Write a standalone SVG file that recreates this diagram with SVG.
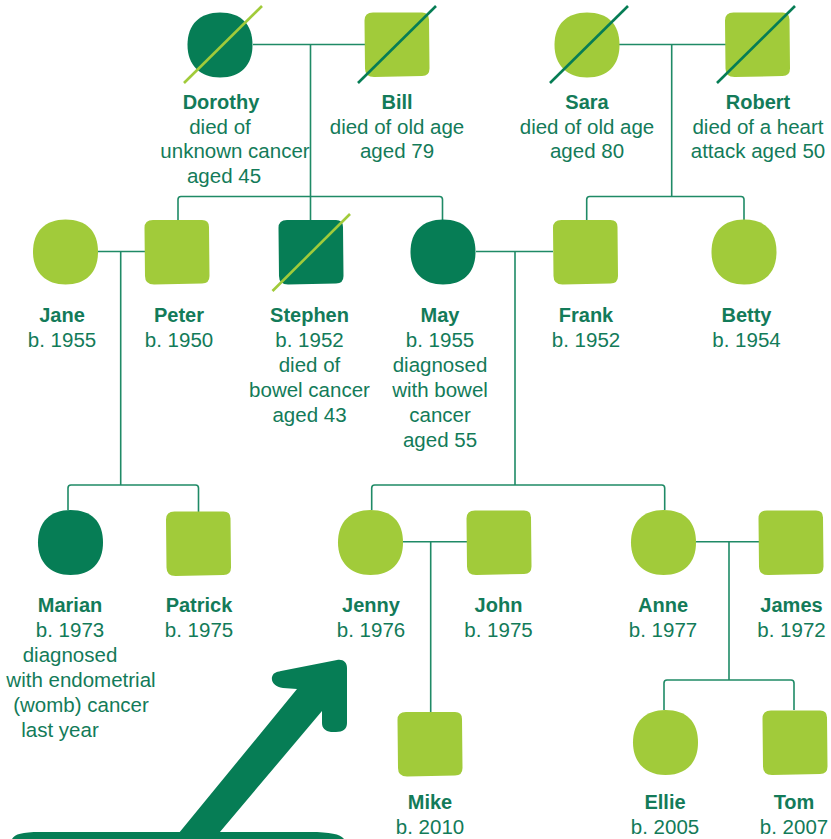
<svg xmlns="http://www.w3.org/2000/svg" xmlns:xlink="http://www.w3.org/1999/xlink" width="831" height="839" viewBox="0 0 831 839">
<style>
.dk{fill:#067d55}
.lt{fill:#a1cb3a}
.con{fill:none;stroke:#1f8a66;stroke-width:1.6}
.sl{stroke:#a1cb3a;stroke-width:2.6}
.sd{stroke:#067d55;stroke-width:2.6}
text{font-family:"Liberation Sans",Arial,sans-serif;font-size:20.5px;fill:#137b59;text-anchor:middle}
.nm{font-weight:bold;font-size:20px}
</style>
<defs>
<path id="fem" d="M0,-32.5 C21,-32.5 32.5,-21 32.5,0 C32.5,20 21,32.5 0,32.5 C-20,32.5 -32.5,20 -32.5,0 C-32.5,-21 -20,-32.5 0,-32.5 Z"/>
<path id="mal" d="M-24,-32 L25,-32 Q32,-32 32,-25 L32.5,24 Q32.5,31.5 25,31.5 L-23,32.5 Q-32,32.5 -32,24 L-32.5,-24 Q-32.5,-32 -24,-32 Z"/>
</defs>

<g id="connectors">
<path class="con" d="M253,44.5 H365 M310.5,44.5 V196.5"/>
<path class="con" d="M619,44.5 H726 M671.7,44.5 V196.5"/>
<path class="con" d="M178,220 V199.5 Q178,196.5 181,196.5 H439.5 Q442.5,196.5 442.5,199.5 V220 M310.5,196.5 V220"/>
<path class="con" d="M586.7,220 V199.5 Q586.7,196.5 589.7,196.5 H741 Q744,196.5 744,199.5 V220"/>
<path class="con" d="M98,251.5 H145 M120.7,251.5 V485"/>
<path class="con" d="M476,251.5 H553 M515,251.5 V485"/>
<path class="con" d="M68,510 V488 Q68,485 71,485 H195.5 Q198.5,485 198.5,488 V512"/>
<path class="con" d="M371.7,510 V488 Q371.7,485 374.7,485 H661.7 Q664.7,485 664.7,488 V510"/>
<path class="con" d="M403,541.7 H467 M430.7,541.7 V712"/>
<path class="con" d="M696,541.7 H759 M729,541.7 V680"/>
<path class="con" d="M664,710 V683 Q664,680 667,680 H791 Q794,680 794,683 V710"/>
</g>

<g id="dorothy">
<use xlink:href="#fem" href="#fem" class="dk" transform="translate(220,45)"/>
<line class="sl" x1="184" y1="83" x2="262" y2="6"/>
<text class="nm" x="221" y="109">Dorothy</text>
<text x="220" y="134">died of</text>
<text x="235" y="158">unknown cancer</text>
<text x="224" y="183">aged 45</text>
</g>
<g id="bill">
<use xlink:href="#mal" href="#mal" class="lt" transform="translate(397,44.5)"/>
<line class="sd" x1="358" y1="83" x2="436" y2="6"/>
<text class="nm" x="397" y="109">Bill</text>
<text x="397" y="134">died of old age</text>
<text x="397" y="158">aged 79</text>
</g>
<g id="sara">
<use xlink:href="#fem" href="#fem" class="lt" transform="translate(587,45)"/>
<line class="sd" x1="550" y1="83" x2="628" y2="6"/>
<text class="nm" x="587" y="109">Sara</text>
<text x="587" y="134">died of old age</text>
<text x="587" y="158">aged 80</text>
</g>
<g id="robert">
<use xlink:href="#mal" href="#mal" class="lt" transform="translate(757.5,44.5)"/>
<line class="sd" x1="717" y1="83" x2="795" y2="6"/>
<text class="nm" x="758" y="109">Robert</text>
<text x="758" y="134">died of a heart</text>
<text x="758" y="158">attack aged 50</text>
</g>

<g id="jane">
<use xlink:href="#fem" href="#fem" class="lt" transform="translate(65.5,252)"/>
<text class="nm" x="62" y="322">Jane</text>
<text x="62" y="347">b. 1955</text>
</g>
<g id="peter">
<use xlink:href="#mal" href="#mal" class="lt" transform="translate(177,252)"/>
<text class="nm" x="179" y="322">Peter</text>
<text x="179" y="347">b. 1950</text>
</g>
<g id="stephen">
<use xlink:href="#mal" href="#mal" class="dk" transform="translate(311,252)"/>
<line class="sl" x1="272.5" y1="291" x2="350" y2="214"/>
<text class="nm" x="309.5" y="322">Stephen</text>
<text x="309.5" y="347">b. 1952</text>
<text x="309.5" y="372">died of</text>
<text x="309.5" y="397">bowel cancer</text>
<text x="309.5" y="422">aged 43</text>
</g>
<g id="may">
<use xlink:href="#fem" href="#fem" class="dk" transform="translate(443,252)"/>
<text class="nm" x="440" y="322">May</text>
<text x="440" y="347">b. 1955</text>
<text x="440" y="372">diagnosed</text>
<text x="440" y="397">with bowel</text>
<text x="440" y="422">cancer</text>
<text x="440" y="447">aged 55</text>
</g>
<g id="frank">
<use xlink:href="#mal" href="#mal" class="lt" transform="translate(585.5,252)"/>
<text class="nm" x="586" y="322">Frank</text>
<text x="586" y="347">b. 1952</text>
</g>
<g id="betty">
<use xlink:href="#fem" href="#fem" class="lt" transform="translate(744,252)"/>
<text class="nm" x="746.5" y="322">Betty</text>
<text x="746.5" y="347">b. 1954</text>
</g>

<g id="marian">
<use xlink:href="#fem" href="#fem" class="dk" transform="translate(70.5,542.5)"/>
<text class="nm" x="70" y="612">Marian</text>
<text x="70" y="637">b. 1973</text>
<text x="70" y="662">diagnosed</text>
<text x="81" y="687">with endometrial</text>
<text x="81" y="712">(womb) cancer</text>
<text x="60" y="737">last year</text>
</g>
<g id="patrick">
<use xlink:href="#mal" href="#mal" class="lt" transform="translate(198.5,543.5)"/>
<text class="nm" x="199" y="612">Patrick</text>
<text x="199" y="637">b. 1975</text>
</g>
<g id="jenny">
<use xlink:href="#fem" href="#fem" class="lt" transform="translate(370.5,542.5)"/>
<text class="nm" x="371" y="612">Jenny</text>
<text x="371" y="637">b. 1976</text>
</g>
<g id="john">
<use xlink:href="#mal" href="#mal" class="lt" transform="translate(499,542.5)"/>
<text class="nm" x="498.5" y="612">John</text>
<text x="498.5" y="637">b. 1975</text>
</g>
<g id="anne">
<use xlink:href="#fem" href="#fem" class="lt" transform="translate(663.5,542.5)"/>
<text class="nm" x="663" y="612">Anne</text>
<text x="663" y="637">b. 1977</text>
</g>
<g id="james">
<use xlink:href="#mal" href="#mal" class="lt" transform="translate(791,542.5)"/>
<text class="nm" x="791.5" y="612">James</text>
<text x="791.5" y="637">b. 1972</text>
</g>

<g id="mike">
<use xlink:href="#mal" href="#mal" class="lt" transform="translate(430,744)"/>
<text class="nm" x="430" y="809">Mike</text>
<text x="430" y="834">b. 2010</text>
</g>
<g id="ellie">
<use xlink:href="#fem" href="#fem" class="lt" transform="translate(665.5,742.5)"/>
<text class="nm" x="665" y="809">Ellie</text>
<text x="665" y="834">b. 2005</text>
</g>
<g id="tom">
<use xlink:href="#mal" href="#mal" class="lt" transform="translate(795,742.5)"/>
<text class="nm" x="794" y="809">Tom</text>
<text x="794" y="834">b. 2007</text>
</g>

<g id="arrow">
<path class="dk" d="M174,839 L297,689 L283,688 C275,687 271,682 272,677 C273,673 276,672 281,671 L337,660 C343,659 347,662 347,668 L347,723 C347,729 343,732 336,732 L331,732 C325,731 322,728 322,723 L322,711 L214,839 Z"/>
<path class="dk" d="M12,839 C15,834 22,832 40,832 L310,832 C330,832 340,834 344,839 Z"/>
</g>
</svg>
